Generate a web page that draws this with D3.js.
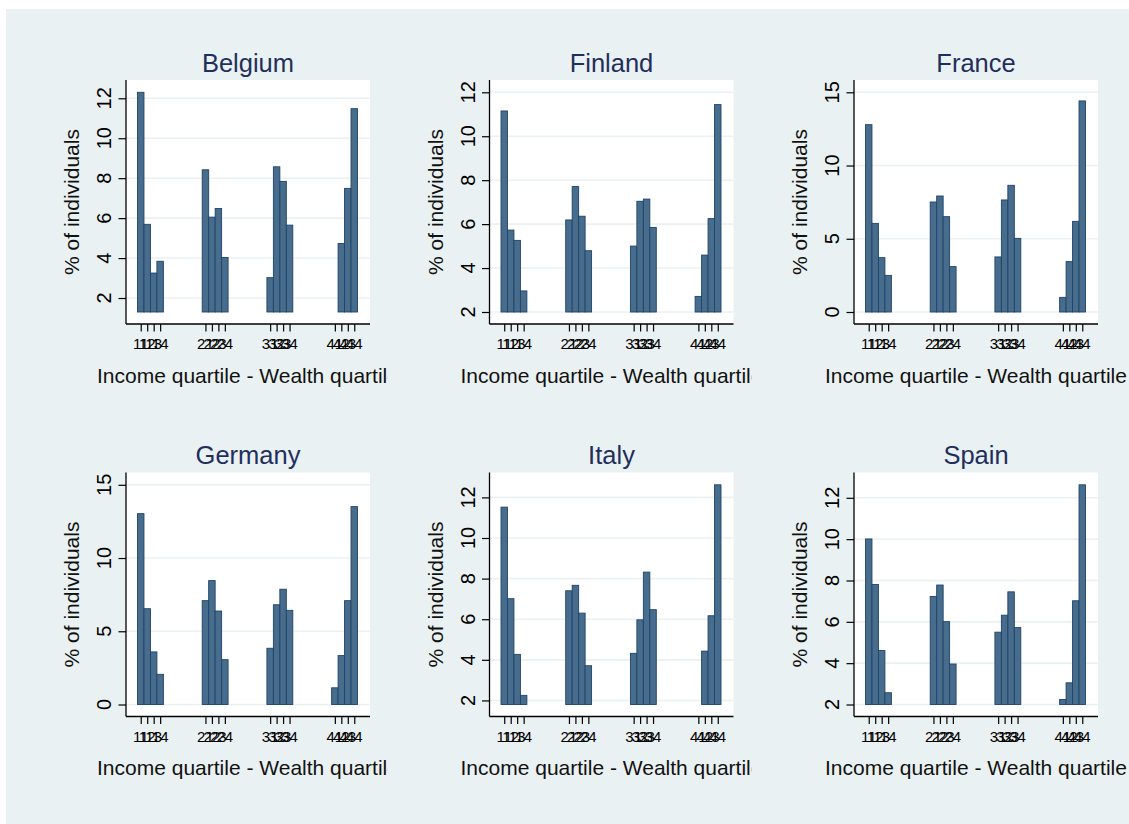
<!DOCTYPE html>
<html>
<head>
<meta charset="utf-8">
<script src="https://cdn.jsdelivr.net/npm/d3@7"></script>
<style>
  body { margin: 0; background: #ffffff; }
  svg { display: block; }
  text { font-family: "Liberation Sans", Arial, Helvetica, sans-serif; }
</style>
</head>
<body>
<svg id="chart" width="1129" height="824"></svg>
<script>
// Income quartile / wealth quartile cells, in plotting order
const cellCodes = ["11","12","13","14","21","22","23","24","31","32","33","34","41","42","43","44"];

const countries = ["Belgium", "Finland", "France", "Germany", "Italy", "Spain"];

// Share of individuals (%) in each income-wealth cell
const belgiumShares = [12.30, 5.69, 3.25, 3.84,  8.42, 6.05, 6.48, 4.03,  3.02, 8.57, 7.84, 5.65,  1.30, 4.73, 7.49, 11.48];
const finlandShares = [11.15, 5.73, 5.26, 2.96,  6.19, 7.71, 6.36, 4.79,  5.00, 7.04, 7.14, 5.85,  2.71, 4.59, 6.25, 11.44];
const franceShares  = [12.79, 6.05, 3.71, 2.50,  7.51, 7.92, 6.51, 3.10,  3.76, 7.65, 8.65, 5.03,  1.00, 3.44, 6.19, 14.41];
const germanyShares = [13.03, 6.54, 3.59, 2.06,  7.09, 8.46, 6.38, 3.06,  3.84, 6.81, 7.87, 6.43,  1.14, 3.34, 7.09, 13.51];
const italyShares   = [11.52, 7.01, 4.27, 2.25,  7.40, 7.67, 6.30, 3.71,  4.32, 5.97, 8.32, 6.47,  1.80, 4.43, 6.17, 12.62];
const spainShares   = [10.01, 7.81, 4.61, 2.57,  7.23, 7.78, 6.01, 3.96,  5.50, 6.32, 7.45, 5.72,  2.24, 3.05, 7.02, 12.63];

// Y-axis tick labels per country
const belgiumTicks = [2, 4, 6, 8, 10, 12];
const finlandTicks = [2, 4, 6, 8, 10, 12];
const franceTicks  = [0, 5, 10, 15];
const germanyTicks = [0, 5, 10, 15];
const italyTicks   = [2, 4, 6, 8, 10, 12];
const spainTicks   = [2, 4, 6, 8, 10, 12];

const yTitle = "% of individuals";
const xTitle = "Income quartile - Wealth quartile";

const panels = [
  { name: countries[0], values: belgiumShares, ticks: belgiumTicks },
  { name: countries[1], values: finlandShares, ticks: finlandTicks },
  { name: countries[2], values: franceShares,  ticks: franceTicks },
  { name: countries[3], values: germanyShares, ticks: germanyTicks },
  { name: countries[4], values: italyShares,   ticks: italyTicks },
  { name: countries[5], values: spainShares,   ticks: spainTicks }
];

// ---- layout & style ----
const W = 1129, H = 824;
const BG = "#eaf1f3";
const BAR_FILL = "#486c8c";
const BAR_STROKE = "#1d446a";
const TITLE_COLOR = "#1f2f5c";

const colLeft = [126, 489.5, 854];           // left edge of each plot region
const rowTop = [80, 472.5];                   // top edge of each plot region
const regionSize = 244;
const cellBounds = [[6, 388], [388, 751.5], [751.5, W]];
const rowBounds = [[9, 420], [420, H]];

const svg = d3.select("#chart");

// graph background
svg.append("rect")
  .attr("x", 6).attr("y", 9)
  .attr("width", W - 6).attr("height", H - 9)
  .attr("fill", BG);

panels.forEach((p, i) => {
  const col = i % 3, row = Math.floor(i / 3);
  const left = colLeft[col], top = rowTop[row];
  const right = left + regionSize, bottom = top + regionSize;

  const g = svg.append("g").attr("class", "panel");

  // each subgraph paints its own background, hiding overflow of its neighbour
  g.append("rect")
    .attr("x", cellBounds[col][0]).attr("y", rowBounds[row][0])
    .attr("width", cellBounds[col][1] - cellBounds[col][0])
    .attr("height", rowBounds[row][1] - rowBounds[row][0])
    .attr("fill", BG);

  // plot region
  g.append("rect")
    .attr("x", left).attr("y", top)
    .attr("width", regionSize).attr("height", regionSize)
    .attr("fill", "#ffffff");

  const base = Math.min(d3.min(p.values), p.ticks[0]);
  const topVal = Math.max(d3.max(p.values), p.ticks[p.ticks.length - 1]);

  const x = d3.scaleLinear().domain([10.5, 44.5]).range([left + 11.5, right - 12.5]);
  const y = d3.scaleLinear().domain([base, topVal]).range([bottom - 12, top + 12.3]);

  // horizontal grid lines
  g.append("g")
    .selectAll("line")
    .data(p.ticks)
    .join("line")
    .attr("x1", left).attr("x2", right)
    .attr("y1", d => y(d)).attr("y2", d => y(d))
    .attr("stroke", BG).attr("stroke-width", 1.6);

  // bars
  const barW = x(1) - x(0);
  g.append("g")
    .selectAll("rect")
    .data(p.values.map((v, k) => ({ code: cellCodes[k], v })))
    .join("rect")
    .attr("x", d => x(+d.code) - barW / 2)
    .attr("width", barW)
    .attr("y", d => y(d.v))
    .attr("height", d => Math.max(0, y(base) - y(d.v)))
    .attr("fill", BAR_FILL)
    .attr("stroke", BAR_STROKE)
    .attr("stroke-width", 0.9);

  // y axis
  const yAxis = d3.axisLeft(y).tickValues(p.ticks).tickSize(7.5).tickPadding(0).tickFormat(d3.format("d"));
  const ya = g.append("g").attr("transform", `translate(${left},0)`).call(yAxis);
  ya.select(".domain").remove();
  ya.selectAll(".tick line").attr("stroke", "#000").attr("stroke-width", 1.2);
  ya.selectAll(".tick text").remove();
  g.append("line")
    .attr("x1", left).attr("x2", left)
    .attr("y1", top).attr("y2", bottom)
    .attr("stroke", "#000").attr("stroke-width", 1.3);
  g.append("g")
    .selectAll("text")
    .data(p.ticks)
    .join("text")
    .attr("transform", d => `translate(${left - 15},${y(d)}) rotate(-90)`)
    .attr("text-anchor", "middle")
    .attr("font-size", 20)
    .attr("fill", "#000")
    .text(d => d);

  // x axis
  const xAxis = d3.axisBottom(x).tickValues(cellCodes.map(Number)).tickSize(7.5).tickPadding(0).tickFormat(() => "");
  const xa = g.append("g").attr("transform", `translate(0,${bottom})`).call(xAxis);
  xa.select(".domain").remove();
  xa.selectAll(".tick line").attr("stroke", "#000").attr("stroke-width", 1.2);
  g.append("line")
    .attr("x1", left).attr("x2", right)
    .attr("y1", bottom).attr("y2", bottom)
    .attr("stroke", "#000").attr("stroke-width", 1.3);
  g.append("g")
    .selectAll("text")
    .data(cellCodes)
    .join("text")
    .attr("x", d => x(+d))
    .attr("y", bottom + 25)
    .attr("text-anchor", "middle")
    .attr("font-size", 15)
    .attr("fill", "#000")
    .text(d => d);

  // titles
  g.append("text")
    .attr("x", (left + right) / 2)
    .attr("y", top - 8.5)
    .attr("text-anchor", "middle")
    .attr("font-size", 25.5)
    .attr("fill", TITLE_COLOR)
    .text(p.name);

  g.append("text")
    .attr("transform", `translate(${left - 47},${(top + bottom) / 2}) rotate(-90)`)
    .attr("text-anchor", "middle")
    .attr("font-size", 21)
    .attr("fill", "#111")
    .text(yTitle);

  g.append("text")
    .attr("x", (left + right) / 2)
    .attr("y", bottom + 58.5)
    .attr("text-anchor", "middle")
    .attr("font-size", 21)
    .attr("fill", "#111")
    .text(xTitle);
});
</script>
</body>
</html>
